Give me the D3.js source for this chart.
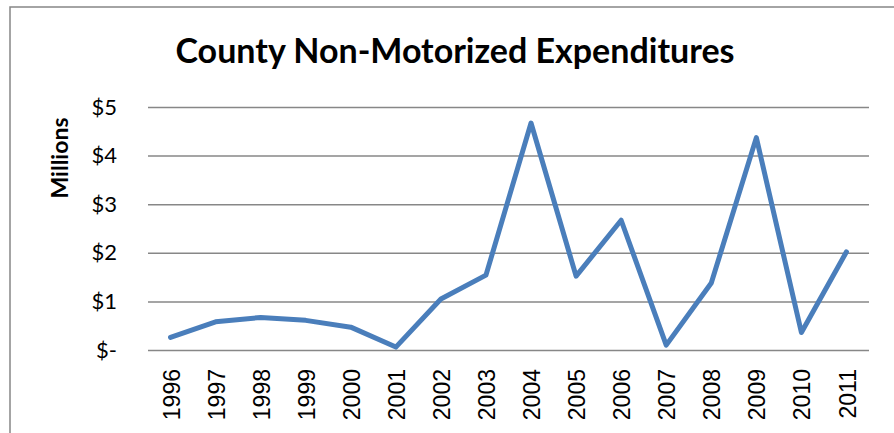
<!DOCTYPE html>
<html>
<head>
<meta charset="utf-8">
<script src="https://cdn.jsdelivr.net/npm/d3@7"></script>
<style>
  body { margin: 0; background: #fff; }
  svg { display: block; }
</style>
</head>
<body>
<div id="chart"></div>
<script>
// data
const years = ["1996","1997","1998","1999","2000","2001","2002","2003","2004","2005","2006","2007","2008","2009","2010","2011"];
const spending = [0.26, 0.58, 0.67, 0.61, 0.47, 0.06, 1.05, 1.54, 4.67, 1.52, 2.67, 0.1, 1.38, 4.37, 0.36, 2.02];
const yTicks = [0, 1, 2, 3, 4, 5];
const yTickLabels = ["$-", "$1", "$2", "$3", "$4", "$5"];

const W = 894, H = 433;
const margin = {top: 107, right: 25, bottom: 83, left: 148};
const width = W - margin.left - margin.right,
      height = H - margin.top - margin.bottom;

const svg = d3.select("#chart").append("svg")
    .attr("width", W)
    .attr("height", H);

// chart frame (runs off the right and bottom edge)
svg.append("rect")
    .attr("x", 10).attr("y", 7)
    .attr("width", W + 20).attr("height", H + 20)
    .attr("fill", "none")
    .attr("stroke", "#868686")
    .attr("stroke-width", 1.5);

svg.append("text")
    .attr("x", 455).attr("y", 63)
    .attr("text-anchor", "middle")
    .style("font-family", "Lato, 'Open Sans', sans-serif")
    .style("font-weight", "bold")
    .style("font-size", "34px")
    .text("County Non-Motorized Expenditures");

const g = svg.append("g")
    .attr("transform", "translate(" + margin.left + "," + margin.top + ")");

const x = d3.scaleBand().domain(years).range([0, width]);
const y = d3.scaleLinear().domain([0, 5]).range([height, 0]);

// gridlines + y labels
g.append("g")
    .call(d3.axisLeft(y).tickValues(yTicks).tickSize(-width)
        .tickFormat((d, i) => yTickLabels[i]).tickPadding(31))
    .call(a => a.select(".domain").remove())
    .call(a => a.selectAll("line").attr("stroke", "#878787").attr("stroke-width", 1.5))
    .call(a => a.selectAll("text")
        .style("font-family", "Lato, 'Open Sans', sans-serif")
        .style("font-size", "22px")
        .attr("fill", "#000"));

// x labels
g.append("g")
    .attr("transform", "translate(0," + height + ")")
    .call(d3.axisBottom(x).tickSize(0).tickSizeOuter(0))
    .call(a => a.select(".domain").remove())
    .call(a => a.selectAll("text")
        .attr("transform", "rotate(-90)")
        .attr("x", -19).attr("y", 1).attr("dy", "0.35em")
        .style("text-anchor", "end")
        .style("font-family", "'Liberation Sans', Arial, sans-serif")
        .style("font-size", "23px")
        .attr("fill", "#000"));

svg.append("text")
    .attr("transform", "translate(68,158) rotate(-90)")
    .attr("text-anchor", "middle")
    .style("font-family", "Lato, 'Open Sans', sans-serif")
    .style("font-weight", "bold")
    .style("font-size", "23px")
    .text("Millions");

const line = d3.line()
    .x((d, i) => x(years[i]) + x.bandwidth() / 2)
    .y(d => y(d));

g.append("path")
    .datum(spending)
    .attr("d", line)
    .attr("fill", "none")
    .attr("stroke", "#4a7ebb")
    .attr("stroke-width", 5)
    .attr("stroke-linejoin", "round")
    .attr("stroke-linecap", "round");
</script>
</body>
</html>
